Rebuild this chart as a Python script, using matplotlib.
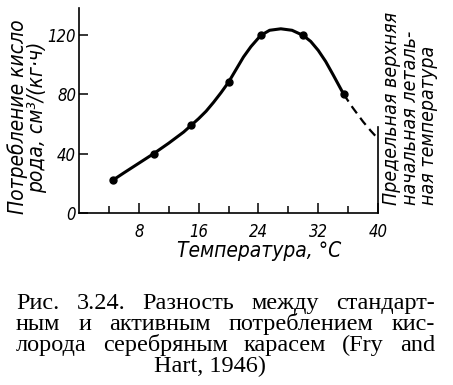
import matplotlib
matplotlib.use("Agg")
import matplotlib.pyplot as plt
from matplotlib import font_manager
from matplotlib.font_manager import FontProperties

# measured points (temperature, oxygen uptake)
temp_points = [4.5, 10, 15, 20, 24.3, 30, 35.4]
oxygen_points = [22, 40, 59, 88, 120, 120, 80]

# traced smooth curve, solid part
curve_temp = [4.5, 6, 8, 10, 12, 14, 15, 16, 17, 18, 19, 20, 21, 22, 23,
              24.3, 25.5, 27, 28.5, 30, 31, 32, 33, 34, 35.4]
curve_oxygen = [22, 27, 33.5, 40, 47, 54.5, 59, 63.5, 68.5, 74.5, 81, 88,
                96.5, 105, 112, 119.5, 123, 124, 123, 119.5, 115.5, 109.5,
                102, 93, 80]

# extrapolated, dashed part
dashed_temp = [35.4, 36.6, 38, 39, 40]
dashed_oxygen = [80, 71, 61.5, 55.5, 50]

# upper incipient lethal temperature marker
lethal_temp = 40
lethal_top = 58

x_major = [8, 16, 24, 32, 40]
x_minor = [4, 12, 20, 28, 36]
y_major = [0, 40, 80, 120]

ylabel = "Потребление кисло\nрода, см³/(кг·ч)"
xlabel = "Температура, °С"
right_note = "Предельная верхняя\nначальная леталь-\nная температура"
caption_lines = [
    "Рис. 3.24. Разность между стандарт-",
    "ным и активным потреблением кис-",
    "лорода серебряным карасем (Fry and",
    "Hart, 1946)",
]


def narrow_italic(size):
    # prefer a condensed/narrow oblique face if one is installed
    files = [f.fname for f in font_manager.fontManager.ttflist]
    for key in ["DejaVuSansCondensed-Oblique", "LiberationSansNarrow-Italic"]:
        for fn in files:
            if key in fn:
                return FontProperties(fname=fn, size=size)
    return FontProperties(family="Liberation Sans", style="italic", size=size)


serif = "Liberation Serif"

W, H = 453, 385
fig = plt.figure(figsize=(W / 100, H / 100), dpi=100)
ax = fig.add_axes([79 / W, 1 - 213 / H, (378 - 79) / W, 205 / H])

ax.plot(curve_temp, curve_oxygen, color="black", lw=2.2, clip_on=False,
        solid_capstyle="round")
ax.plot(dashed_temp, dashed_oxygen, color="black", lw=1.6, ls=(0, (4, 2.5)),
        clip_on=False)
ax.plot(temp_points, oxygen_points, "o", color="black", ms=5, clip_on=False)
ax.plot([lethal_temp, lethal_temp], [0, lethal_top], color="black", lw=1.2,
        clip_on=False)

ax.set_xlim(0, 40)
ax.set_ylim(0, 138)
for s in ["top", "right"]:
    ax.spines[s].set_visible(False)
for s in ["left", "bottom"]:
    ax.spines[s].set_linewidth(1.2)

ax.set_xticks(x_major)
ax.set_xticks(x_minor, minor=True)
ax.set_yticks(y_major)
ax.tick_params(axis="x", which="major", direction="in", length=7, width=1.1,
               pad=7)
ax.tick_params(axis="x", which="minor", direction="in", length=5, width=1.1)
ax.tick_params(axis="y", which="major", direction="in", length=6.5, width=1.1,
               pad=2)
tick_font = narrow_italic(12)
for lab in ax.get_xticklabels() + ax.get_yticklabels():
    lab.set_fontproperties(tick_font)

fig.text(259 / W, 1 - 251 / H, xlabel, fontproperties=narrow_italic(15),
         ha="center", va="center")
fig.text(27 / W, 1 - 117 / H, ylabel, fontproperties=narrow_italic(15),
         rotation=90, ha="center", va="center",
         multialignment="center", linespacing=0.9)
fig.text(410 / W, 1 - 205 / H, right_note, fontproperties=narrow_italic(14),
         rotation=90, ha="center", va="bottom",
         multialignment="left", linespacing=0.95)

# justified caption under the chart
cap_size = 17.5
renderer = fig.canvas.get_renderer()
left_px, right_px = 16, 435
baselines = [309, 330, 351, 372]
for i, line in enumerate(caption_lines):
    y = 1 - baselines[i] / H
    if i == len(caption_lines) - 1:
        fig.text(210 / W, y, line, family=serif, fontsize=cap_size,
                 ha="center", va="baseline")
        continue
    words = line.split(" ")
    texts = [fig.text(0, y, w, family=serif, fontsize=cap_size,
                      va="baseline") for w in words]
    widths = [t.get_window_extent(renderer).width for t in texts]
    gap = (right_px - left_px - sum(widths)) / (len(words) - 1)
    x = left_px
    for t, w in zip(texts, widths):
        t.set_x(x / W)
        x += w + gap

fig.savefig("out.png", dpi=100)
